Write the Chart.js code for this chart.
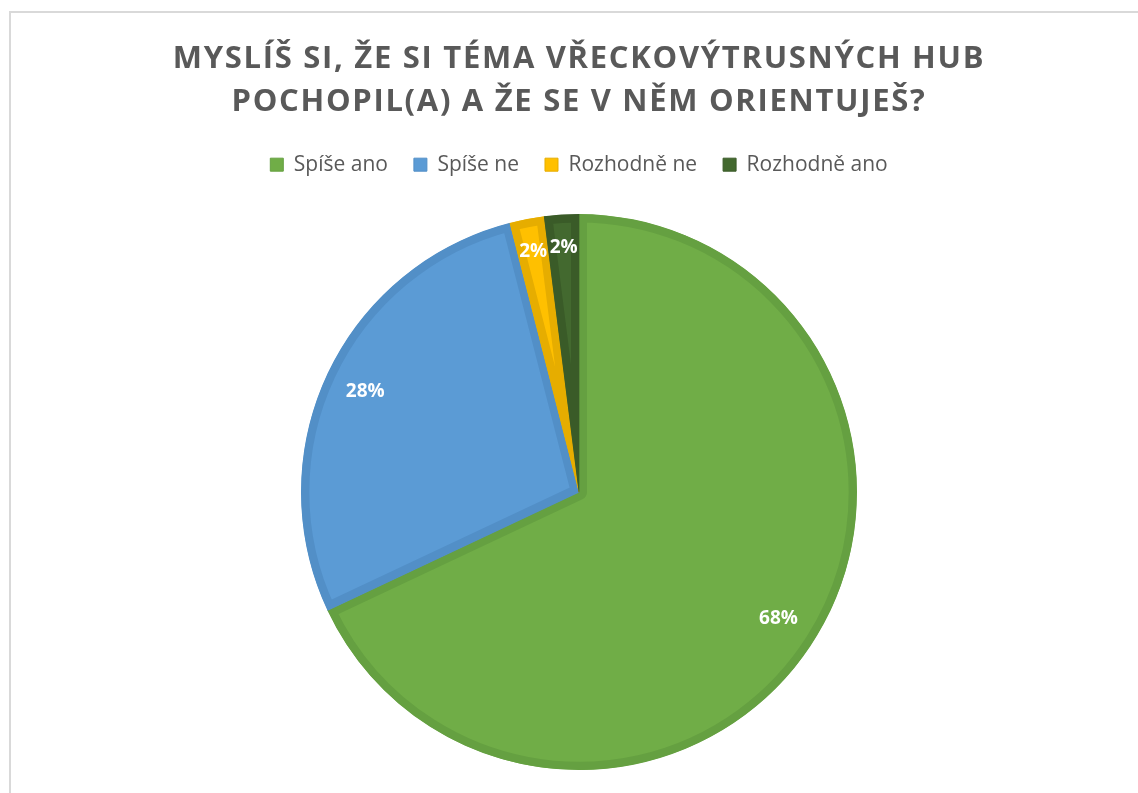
<!DOCTYPE html>
<html>
<head>
<meta charset="utf-8">
<script src="https://cdn.jsdelivr.net/npm/chart.js@4/dist/chart.umd.min.js"></script>
<style>
  html, body { margin: 0; padding: 0; background: #fff; }
  body { width: 1138px; height: 793px; position: relative; overflow: hidden; }
  #frame { position: absolute; left: 9px; top: 11px; width: 1160px; height: 820px; border: 2px solid #d9d9d9; box-sizing: border-box; }
  #wrap { position: absolute; left: 0; top: 0; width: 1138px; height: 799px; }
</style>
</head>
<body>
<div id="frame"></div>
<div id="wrap"><canvas id="pie"></canvas></div>
<script>
/* ── Data ───────────────────────────────────────────────────────────────── */
const titleLines = ['MYSLÍŠ SI, ŽE SI TÉMA VŘECKOVÝTRUSNÝCH HUB', 'POCHOPIL(A) A ŽE SE V NĚM ORIENTUJEŠ?'];
const categories = ['Spíše ano', 'Spíše ne', 'Rozhodně ne', 'Rozhodně ano'];
const answers = [34, 14, 1, 1];
const fillColors = ['#70ad47', '#5b9bd5', '#ffc000', '#43692f'];
const edgeColors = ['#65a041', '#528fc7', '#e6ad00', '#3a5b28'];

/* ── Percentage labels inside the slices ────────────────────────────────── */
const sliceLabels = {
  id: 'sliceLabels',
  afterDatasetsDraw(chart) {
    const ctx = chart.ctx;
    const meta = chart.getDatasetMeta(0);
    const total = answers.reduce((a, b) => a + b, 0);
    ctx.save();
    ctx.fillStyle = '#ffffff';
    ctx.font = 'bold 19px "Open Sans"';
    ctx.textAlign = 'center';
    ctx.textBaseline = 'middle';
    meta.data.forEach((arc, i) => {
      const mid = (arc.startAngle + arc.endAngle) / 2;
      const r = arc.outerRadius * (answers[i] / total < 0.05 ? 0.88 : 0.85);
      const pct = Math.round(answers[i] / total * 100) + '%';
      ctx.fillText(pct, arc.x + Math.cos(mid) * r, arc.y + Math.sin(mid) * r);
    });
    ctx.restore();
  }
};

// spaced-out title letters, like the office chart style
const titleSpacing = {
  id: 'titleSpacing',
  beforeDraw(chart) {
    const tb = chart.titleBlock;
    if (!tb || tb._spaced) return;
    const draw = tb.draw.bind(tb);
    tb.draw = function () {
      this.ctx.letterSpacing = '1.7px';
      draw();
      this.ctx.letterSpacing = '0px';
    };
    tb._spaced = true;
  }
};

new Chart(document.getElementById('pie'), {
  type: 'pie',
  data: {
    labels: categories,
    datasets: [{
      data: answers,
      backgroundColor: fillColors,
      borderColor: edgeColors,
      borderWidth: 8,
      borderAlign: 'inner',
      hoverOffset: 0,
      radius: 278,
    }],
  },
  options: {
    responsive: true, maintainAspectRatio: false, animation: false,
    layout: { padding: { left: 20, right: 0, top: 0, bottom: 0 } },
    plugins: {
      title: {
        display: true,
        text: titleLines,
        color: '#595959',
        font: { family: '"Open Sans"', size: 31, weight: 'bold', lineHeight: 1.39 },
        padding: { top: 38, bottom: 4 },
      },
      legend: {
        position: 'top',
        labels: {
          color: '#595959',
          font: { family: '"Open Sans"', size: 21 },
          boxWidth: 13, boxHeight: 13,
          padding: 26,
          generateLabels(chart) {
            return categories.map((c, i) => ({
              text: c, fillStyle: fillColors[i], strokeStyle: edgeColors[i],
              lineWidth: 1, fontColor: '#595959', index: i, hidden: false,
            }));
          },
        },
      },
      tooltip: { enabled: false },
    },
  },
  plugins: [sliceLabels, titleSpacing],
});
</script>
</body>
</html>
